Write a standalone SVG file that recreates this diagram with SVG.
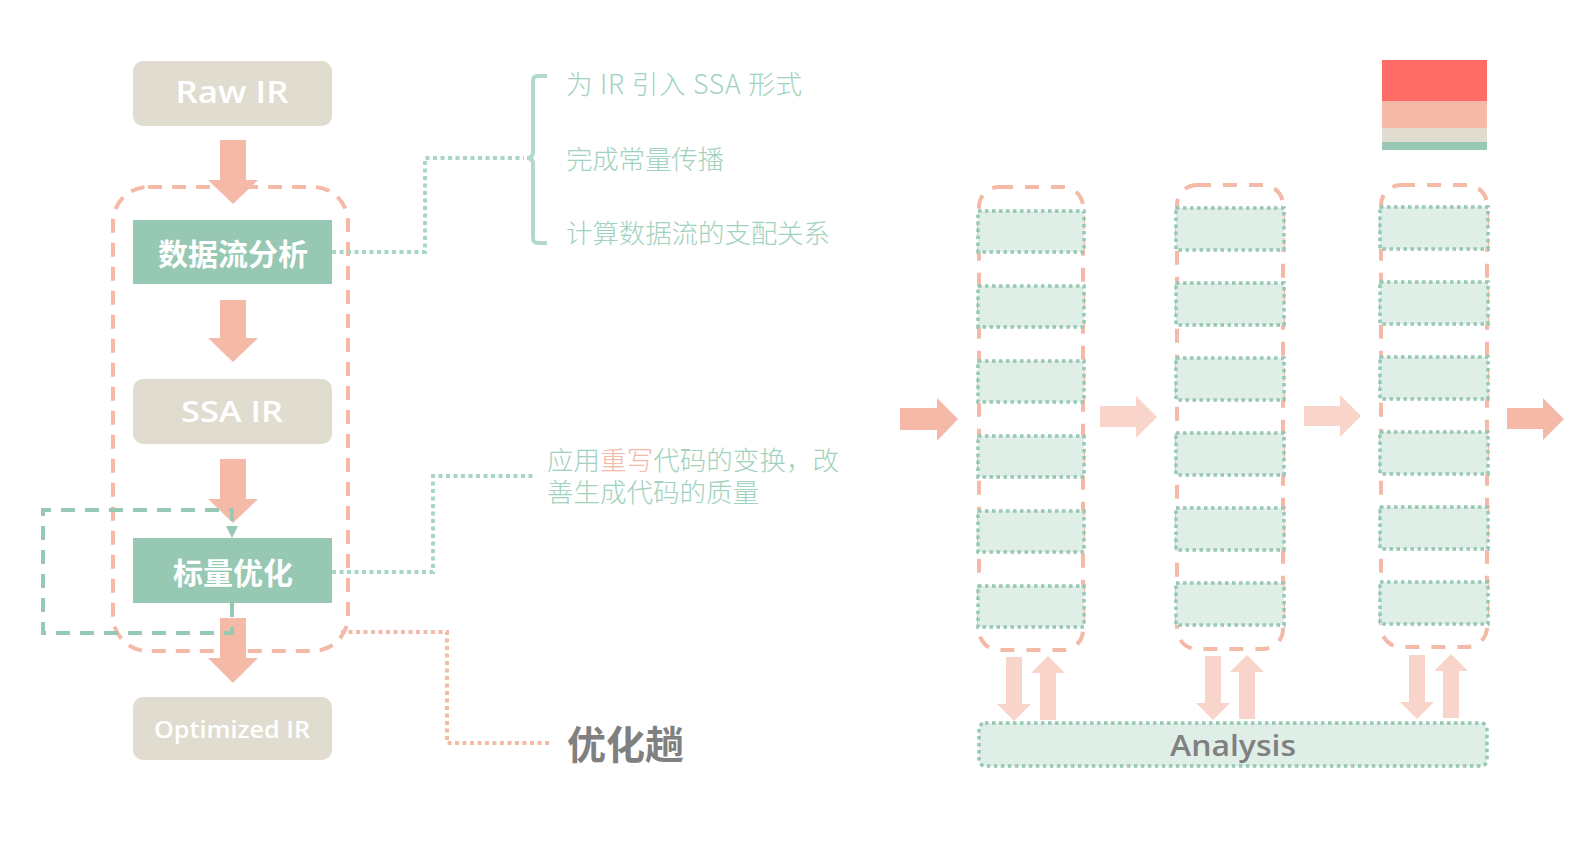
<svg xmlns="http://www.w3.org/2000/svg" width="1580" height="841" viewBox="0 0 1580 841">
<defs>
<style>
.ir{fill:#E0DCD0}
.irt{fill:#FFFFFF;font-family:"Open Sans","Liberation Sans",sans-serif;font-weight:600;text-anchor:middle}
.gb{fill:#96C8B3}
.gbt{fill:#FFFFFF;font-family:"Noto Sans CJK SC",sans-serif;font-weight:700;font-size:30px;text-anchor:middle;dominant-baseline:central}
.arr{fill:#F4B9A7}
.arrl{fill:#F8D4CA}
.bigdash{fill:none;stroke:#F4B9A7;stroke-width:4;stroke-dasharray:14 10}
.coldash{fill:none;stroke:#F4B9A7;stroke-width:4;stroke-dasharray:14 12}
.cell{fill:#DFEFE8;stroke:#96C8B3;stroke-width:3.5;stroke-dasharray:3.5 3.5}
.gdot{fill:none;stroke:#AAD6C4;stroke-width:4;stroke-dasharray:4 3.5}
.sdot{fill:none;stroke:#F4B9A7;stroke-width:4;stroke-dasharray:4 3.5}
.loop{fill:none;stroke:#96C8B3;stroke-width:4;stroke-dasharray:14 10}
.desc{fill:#A2D2BE;font-family:"Noto Sans CJK SC",sans-serif;font-weight:300;font-size:26.5px;dominant-baseline:central}
</style>
</defs>

<!-- legend swatch -->
<g id="legend">
<rect x="1382" y="60" width="105" height="41" fill="#FF6B66"/>
<rect x="1382" y="101" width="105" height="27" fill="#F4B9A7"/>
<rect x="1382" y="128" width="105" height="14" fill="#E0DCD0"/>
<rect x="1382" y="142" width="105" height="8" fill="#96C8B3"/>
</g>

<!-- left pass container -->
<g id="pass-container">
<rect class="bigdash" x="113" y="187" width="235" height="464" rx="35"/>
</g>

<g id="raw-ir">
<rect class="ir" x="133" y="61" width="199" height="65" rx="10"/>
<text class="irt" x="232" y="103" font-size="30" textLength="113" lengthAdjust="spacingAndGlyphs">Raw IR</text>
</g>
<g id="dataflow">
<rect class="gb" x="133" y="220" width="199" height="64"/>
<text class="gbt" x="233" y="252">数据流分析</text>
</g>
<g id="ssa-ir">
<rect class="ir" x="133" y="379" width="199" height="65" rx="10"/>
<text class="irt" x="232" y="422" font-size="29" textLength="102" lengthAdjust="spacingAndGlyphs">SSA IR</text>
</g>
<g id="scalar-opt">
<rect class="gb" x="133" y="538" width="199" height="65"/>
<text class="gbt" x="233" y="571">标量优化</text>
</g>
<g id="optimized-ir">
<rect class="ir" x="133" y="697" width="199" height="63" rx="10"/>
<text class="irt" x="232" y="738" font-size="23" textLength="156" lengthAdjust="spacingAndGlyphs">Optimized IR</text>
</g>

<!-- annotation texts -->
<g id="notes-dataflow">
<path d="M547,76 H538 Q533,76 533,81 V152 Q533,158 527,158 Q533,158 533,164 V238 Q533,243 538,243 H547" fill="none" stroke="#B3DAC9" stroke-width="4"/>
<text class="desc" x="566" y="82" textLength="236" lengthAdjust="spacing">为 IR 引入 SSA 形式</text>
<text class="desc" x="566" y="157" textLength="158" lengthAdjust="spacing">完成常量传播</text>
<text class="desc" x="566" y="231" textLength="264" lengthAdjust="spacing">计算数据流的支配关系</text>
</g>
<g id="notes-scalar">
<text class="desc" x="547" y="458" textLength="292" lengthAdjust="spacing">应用<tspan fill="#F4B9A7">重写</tspan>代码的变换，改</text>
<text class="desc" x="547" y="490" textLength="212" lengthAdjust="spacing">善生成代码的质量</text>
</g>
<g id="pass-label">
<text x="567" y="742" fill="#808080" font-family="'Noto Sans CJK SC',sans-serif" font-weight="700" font-size="39" dominant-baseline="central">优化趟</text>
</g>

<!-- right: passes -->
<g id="pass-1">
<rect class="coldash" x="979" y="187" width="104" height="463" rx="20"/>
<rect class="cell" x="978" y="211" width="106" height="41"/>
<rect class="cell" x="978" y="286" width="106" height="41"/>
<rect class="cell" x="978" y="361" width="106" height="41"/>
<rect class="cell" x="978" y="436" width="106" height="41"/>
<rect class="cell" x="978" y="511" width="106" height="41"/>
<rect class="cell" x="978" y="586" width="106" height="41"/>
</g>
<g id="pass-2">
<rect class="coldash" x="1177" y="185" width="106" height="464" rx="20"/>
<rect class="cell" x="1176" y="208" width="108" height="42"/>
<rect class="cell" x="1176" y="283" width="108" height="42"/>
<rect class="cell" x="1176" y="358" width="108" height="42"/>
<rect class="cell" x="1176" y="433" width="108" height="42"/>
<rect class="cell" x="1176" y="508" width="108" height="42"/>
<rect class="cell" x="1176" y="583" width="108" height="42"/>
</g>
<g id="pass-3">
<rect class="coldash" x="1381" y="185" width="106" height="462" rx="20"/>
<rect class="cell" x="1380" y="207" width="108" height="42"/>
<rect class="cell" x="1380" y="282" width="108" height="42"/>
<rect class="cell" x="1380" y="357" width="108" height="42"/>
<rect class="cell" x="1380" y="432" width="108" height="42"/>
<rect class="cell" x="1380" y="507" width="108" height="42"/>
<rect class="cell" x="1380" y="582" width="108" height="42"/>
</g>
<g id="analysis">
<rect x="979" y="723" width="508" height="43" rx="6" fill="#DFEFE8" stroke="#96C8B3" stroke-width="3.5" stroke-dasharray="3.5 3.5"/>
<text x="1233" y="744" fill="#808080" font-family="'Open Sans','Liberation Sans',sans-serif" font-weight="600" font-size="29" text-anchor="middle" dominant-baseline="central" textLength="126" lengthAdjust="spacingAndGlyphs">Analysis</text>
</g>

<!-- connectors -->
<g id="connectors">
<polygon class="arr" points="220,140 246,140 246,180 258,180 233,204 208,180 220,180"/>
<polygon class="arr" points="220,300 246,300 246,338 258,338 233,362 208,338 220,338"/>
<polygon class="arr" points="220,459 246,459 246,499 258,499 233,523 208,499 220,499"/>
<polygon class="arr" points="220,618 246,618 246,658 258,658 233,683 208,658 220,658"/>

<path class="gdot" d="M332,252 H425 V158 H524"/>
<path class="gdot" d="M332,572 H433 V476 H533"/>
<path class="sdot" d="M341,632 H447 V743 H550"/>

<path class="loop" d="M232,603 V633 H43 V510 H232 V526"/>
<polygon fill="#96C8B3" points="226,526 238,526 232,538"/>

<polygon class="arr" points="900,408 937,408 937,398 958,419 937,441 937,430 900,430"/>
<polygon class="arrl" points="1100,406 1136,406 1136,396 1157,417 1136,438 1136,427 1100,427"/>
<polygon class="arrl" points="1304,406 1340,406 1340,395 1361,416 1340,437 1340,426 1304,426"/>
<polygon class="arr" points="1507,408 1543,408 1543,398 1564,419 1543,440 1543,429 1507,429"/>

<polygon class="arrl" points="1006,657 1022,657 1022,704 1031,704 1014,721 997,704 1006,704"/>
<polygon class="arrl" points="1040,720 1056,720 1056,673 1065,673 1048,656 1031,673 1040,673"/>
<polygon class="arrl" points="1205,656 1221,656 1221,703 1230,703 1213,720 1196,703 1205,703"/>
<polygon class="arrl" points="1239,719 1255,719 1255,672 1264,672 1247,655 1230,672 1239,672"/>
<polygon class="arrl" points="1409,655 1425,655 1425,702 1434,702 1417,719 1400,702 1409,702"/>
<polygon class="arrl" points="1443,718 1459,718 1459,671 1468,671 1451,654 1434,671 1443,671"/>
</g>
</svg>
